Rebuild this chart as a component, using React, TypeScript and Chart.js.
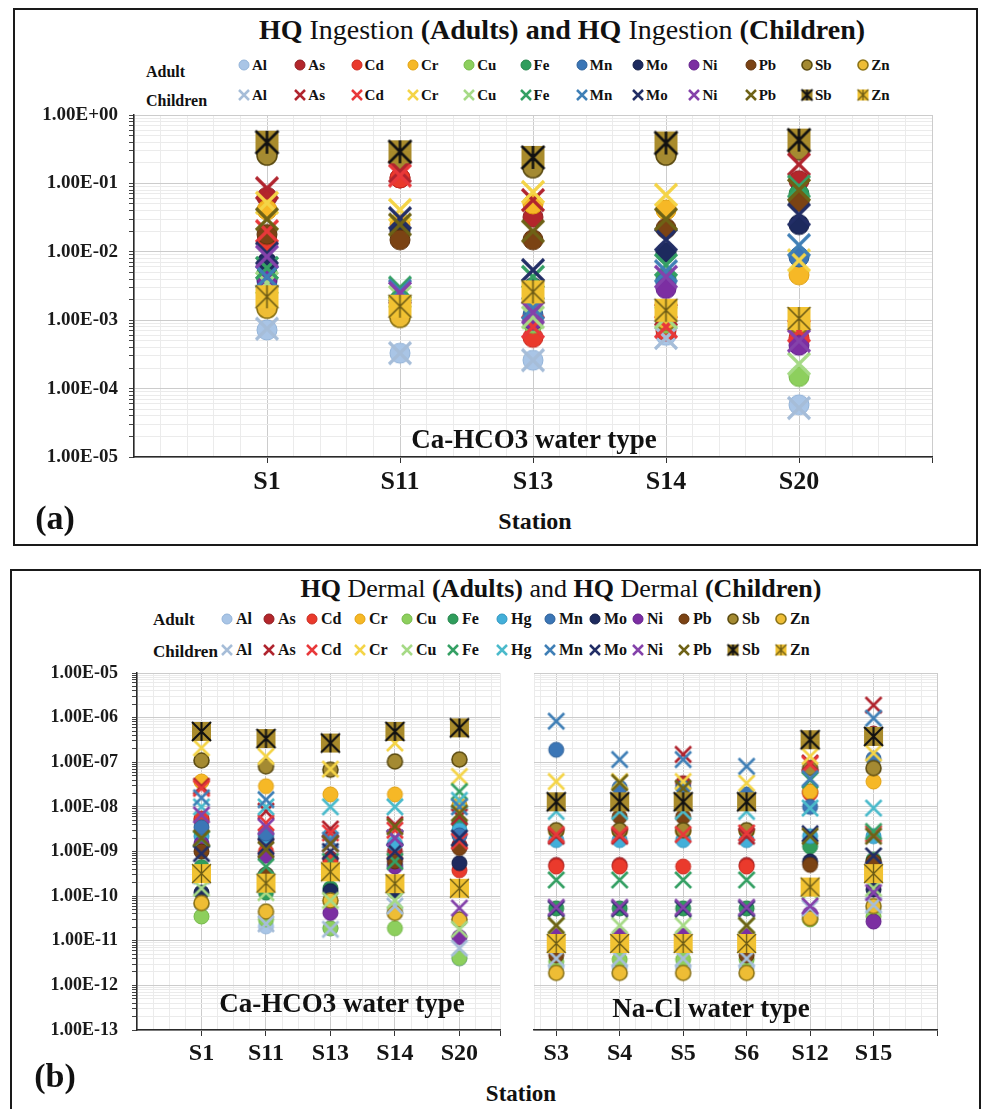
import React, { useEffect, useMemo, useRef } from 'react';
import { Chart, registerables } from 'chart.js';

Chart.register(...registerables);

const FONT = '"Liberation Serif", "Times New Roman", Times, serif';

// ---------------- data ----------------
const ingestionStations = ['S1', 'S11', 'S13', 'S14', 'S20'];
const ingestionElements = ['Al', 'As', 'Cd', 'Cr', 'Cu', 'Fe', 'Mn', 'Mo', 'Ni', 'Pb', 'Sb', 'Zn'];
// rows follow ingestionElements, columns follow ingestionStations
const ingestionAdult = [
  [7.2e-4, 3.3e-4, 2.6e-4, 6.0e-4, 5.8e-5],
  [6.3e-2, 1.2e-1, 3.2e-2, 8.0e-4, 1.1e-1],
  [1.4e-2, 1.2e-1, 5.6e-4, 7.0e-4, 5.5e-4],
  [4.1e-2, 2.5e-2, 5.0e-2, 4.1e-2, 4.6e-3],
  [2.5e-3, 1.5e-3, 9.0e-4, 9.0e-4, 1.5e-4],
  [5.0e-3, 2.0e-3, 2.5e-3, 4.0e-3, 7.0e-2],
  [3.7e-3, 1.8e-3, 1.2e-3, 3.5e-3, 8.4e-3],
  [7.0e-3, 2.0e-2, 3.0e-3, 9.8e-3, 2.5e-2],
  [4.0e-3, 1.8e-3, 1.0e-3, 2.9e-3, 4.3e-4],
  [1.8e-2, 1.5e-2, 1.5e-2, 2.2e-2, 5.4e-2],
  [2.6e-1, 2.2e-1, 1.7e-1, 2.6e-1, 3.1e-1],
  [1.5e-3, 1.1e-3, 2.0e-3, 1.0e-3, 9.0e-4],
];
const ingestionChildren = [
  [7.5e-4, 3.3e-4, 2.6e-4, 5.5e-4, 5.2e-5],
  [8.5e-2, 1.5e-1, 5.7e-2, 1.2e-3, 1.9e-1],
  [2.0e-2, 1.3e-1, 8.0e-4, 8.0e-4, 7.0e-4],
  [5.2e-2, 4.1e-2, 7.5e-2, 6.8e-2, 7.5e-3],
  [3.5e-3, 2.2e-3, 1.1e-3, 1.1e-3, 2.3e-4],
  [5.8e-3, 3.0e-3, 4.3e-3, 6.4e-3, 9.0e-2],
  [4.3e-3, 2.7e-3, 1.5e-3, 5.2e-3, 1.25e-2],
  [9.5e-3, 3.1e-2, 5.4e-3, 1.5e-2, 3.5e-2],
  [8.5e-3, 2.5e-3, 1.3e-3, 4.3e-3, 5.0e-4],
  [3.0e-2, 2.5e-2, 2.0e-2, 3.0e-2, 8.0e-2],
  [4.0e-1, 2.9e-1, 2.4e-1, 3.9e-1, 4.3e-1],
  [2.2e-3, 1.6e-3, 2.6e-3, 1.4e-3, 1.06e-3],
];

const dermalElements = ['Al', 'As', 'Cd', 'Cr', 'Cu', 'Fe', 'Hg', 'Mn', 'Mo', 'Ni', 'Pb', 'Sb', 'Zn'];
const caStations = ['S1', 'S11', 'S13', 'S14', 'S20'];
const naStations = ['S3', 'S4', 'S5', 'S6', 'S12', 'S15'];
const dermalAdultCa = [
  [6.5e-11, 2.1e-11, 1.9e-11, 5.0e-11, 4.0e-12],
  [5.0e-9, 1.9e-9, 7.0e-10, 1.0e-9, 1.4e-9],
  [5.5e-9, 1.0e-9, 6.0e-10, 7.0e-10, 3.8e-10],
  [3.7e-8, 2.9e-8, 1.9e-8, 1.9e-8, 1.1e-8],
  [3.5e-11, 3.0e-11, 1.9e-11, 1.9e-11, 4.1e-12],
  [4.5e-10, 1.2e-10, 1.5e-10, 1.5e-10, 4.3e-9],
  [2.2e-9, 2.2e-9, 2.3e-9, 1.5e-9, 3.0e-9],
  [3.5e-9, 2.5e-9, 4.0e-10, 5.0e-10, 2.3e-9],
  [1.2e-10, 3.0e-10, 1.3e-10, 1.3e-10, 5.5e-10],
  [1.5e-9, 8.0e-10, 4.2e-11, 4.6e-10, 1.2e-11],
  [1.0e-9, 3.0e-10, 3.5e-10, 6.0e-10, 1.2e-9],
  [1.1e-7, 8.1e-8, 6.8e-8, 1.04e-7, 1.15e-7],
  [7.0e-11, 4.5e-11, 8.0e-11, 4.2e-11, 3.0e-11],
];
const dermalChildrenCa = [
  [2.8e-10, 2.4e-11, 1.8e-11, 6.0e-11, 6.8e-12],
  [2.9e-8, 8.0e-9, 3.2e-9, 4.0e-9, 6.0e-9],
  [2.6e-8, 4.4e-9, 2.6e-9, 3.0e-9, 1.7e-9],
  [2.1e-7, 1.35e-7, 7.0e-8, 2.7e-7, 4.8e-8],
  [1.5e-10, 1.2e-10, 8.0e-11, 8.0e-11, 1.8e-11],
  [1.9e-9, 4.6e-10, 6.0e-10, 6.0e-10, 2.2e-8],
  [1.0e-8, 1.0e-8, 1.0e-8, 1.0e-8, 1.4e-8],
  [1.6e-8, 1.45e-8, 1.8e-9, 2.0e-9, 1.0e-8],
  [9.0e-10, 1.3e-9, 1.0e-9, 1.0e-9, 2.0e-9],
  [6.6e-9, 3.6e-9, 1.5e-9, 2.0e-9, 5.4e-11],
  [2.0e-9, 1.1e-9, 1.5e-9, 3.6e-9, 7.2e-9],
  [4.9e-7, 3.4e-7, 2.7e-7, 4.9e-7, 5.9e-7],
  [3.2e-10, 1.95e-10, 3.5e-10, 1.9e-10, 1.5e-10],
];
const dermalAdultNa = [
  [2.5e-12, 2.5e-12, 2.5e-12, 2.5e-12, 3.5e-11, 5.0e-11],
  [5.0e-10, 5.0e-10, 3.4e-8, 5.0e-10, 2.2e-8, 4.4e-7],
  [4.6e-10, 4.6e-10, 4.6e-10, 4.6e-10, 2.0e-8, 6.0e-10],
  [2.8e-9, 2.8e-9, 2.8e-9, 2.8e-9, 2.2e-8, 3.7e-8],
  [3.4e-12, 3.8e-12, 3.8e-12, 3.8e-12, 3.0e-11, 3.5e-11],
  [5.3e-11, 5.3e-11, 5.3e-11, 5.3e-11, 1.3e-9, 6.5e-10],
  [1.8e-9, 1.8e-9, 1.8e-9, 1.8e-9, 2.2e-9, 2.2e-9],
  [1.9e-7, 2.7e-8, 2.7e-8, 1.9e-8, 1.0e-8, 1.2e-7],
  [1.2e-11, 1.2e-11, 1.2e-11, 1.2e-11, 6.0e-10, 1.4e-10],
  [1.3e-11, 1.3e-11, 1.3e-11, 1.3e-11, 4.0e-11, 2.7e-11],
  [4.7e-12, 6.0e-9, 6.0e-9, 4.7e-12, 5.0e-10, 6.0e-10],
  [3.0e-9, 3.0e-9, 3.0e-9, 3.0e-9, 7.4e-8, 7.4e-8],
  [1.9e-12, 1.9e-12, 1.9e-12, 1.9e-12, 3.2e-11, 6.0e-11],
];
const dermalChildrenNa = [
  [4.0e-12, 4.0e-12, 4.0e-12, 4.0e-12, 5.4e-11, 6.3e-11],
  [2.2e-9, 2.2e-9, 1.5e-7, 2.2e-9, 9.6e-8, 1.9e-6],
  [2.4e-9, 2.4e-9, 2.4e-9, 2.6e-9, 9.0e-8, 2.5e-9],
  [3.7e-8, 3.7e-8, 3.7e-8, 3.4e-8, 1.35e-7, 1.6e-7],
  [2.2e-11, 2.2e-11, 2.2e-11, 2.2e-11, 1.3e-10, 1.5e-10],
  [2.3e-10, 2.3e-10, 2.3e-10, 2.3e-10, 4.0e-8, 2.8e-9],
  [7.9e-9, 7.9e-9, 7.9e-9, 7.9e-9, 9.4e-9, 9.4e-9],
  [8.3e-7, 1.15e-7, 1.15e-7, 8.1e-8, 4.3e-8, 9.7e-7],
  [5.2e-11, 5.2e-11, 5.2e-11, 5.2e-11, 2.5e-9, 8.0e-10],
  [5.6e-11, 5.6e-11, 5.6e-11, 5.6e-11, 6.0e-11, 1.2e-10],
  [2.2e-11, 3.5e-8, 2.6e-8, 2.2e-11, 2.2e-9, 2.2e-9],
  [1.3e-8, 1.3e-8, 1.3e-8, 1.3e-8, 3.2e-7, 3.8e-7],
  [8.7e-12, 8.7e-12, 8.7e-12, 8.7e-12, 1.6e-10, 3.2e-10],
];

const ingestionDecades = [-5, 0];
const dermalDecades = [-13, -5];

// ---------------- styling ----------------
const adultColors: Record<string, [string, string]> = {
  Al: ['#a9c5e6', '#93b3d8'],
  As: ['#b3262b', '#8e1d22'],
  Cd: ['#ea3a2c', '#c82a20'],
  Cr: ['#f6b826', '#e0a010'],
  Cu: ['#8dcf5d', '#74b848'],
  Fe: ['#2f9d5c', '#23834a'],
  Hg: ['#43afd9', '#2f96c0'],
  Mn: ['#3b76b6', '#2c5f98'],
  Mo: ['#1d2a5e', '#121c45'],
  Ni: ['#7c2ea2', '#62208a'],
  Pb: ['#7b4314', '#5e300a'],
  Sb: ['#a48a32', '#5c4c12'],
  Zn: ['#eebd35', '#8c7418'],
};
const childColors: Record<string, string> = {
  Al: '#a6bdd8', As: '#b0242e', Cd: '#e8383a', Cr: '#f4d447', Cu: '#a6da86', Fe: '#35a064',
  Hg: '#4bbacb', Mn: '#3f7fb6', Mo: '#222e66', Ni: '#8442aa', Pb: '#6e6216', Sb: '#111111', Zn: '#5e5412',
};
const boxFill: Record<string, string> = { Sb: '#a98b2c', Zn: '#f1c232' };

type Kind = 'circle' | 'x' | 'box';
function markerCanvas(kind: Kind, s: number, fill: string, stroke: string, lw: number, vertical = false) {
  const pad = Math.ceil(lw) + 1;
  const size = Math.ceil(s * 2 + pad * 2);
  const c = document.createElement('canvas');
  c.width = size;
  c.height = size;
  const g = c.getContext('2d')!;
  const m = size / 2;
  if (kind === 'circle') {
    g.beginPath();
    g.arc(m, m, s, 0, Math.PI * 2);
    g.fillStyle = fill;
    g.fill();
    g.lineWidth = lw;
    g.strokeStyle = stroke;
    g.stroke();
  } else if (kind === 'x') {
    g.strokeStyle = stroke;
    g.lineWidth = lw;
    g.beginPath();
    g.moveTo(m - s, m - s);
    g.lineTo(m + s, m + s);
    g.moveTo(m - s, m + s);
    g.lineTo(m + s, m - s);
    g.stroke();
  } else {
    g.fillStyle = fill;
    g.fillRect(m - s, m - s, 2 * s, 2 * s);
    g.strokeStyle = stroke;
    g.lineWidth = lw;
    g.beginPath();
    g.moveTo(m - s, m - s);
    g.lineTo(m + s, m + s);
    g.moveTo(m - s, m + s);
    g.lineTo(m + s, m - s);
    if (vertical) {
      g.moveTo(m, m - s);
      g.lineTo(m, m + s);
    }
    g.stroke();
  }
  return c;
}

function adultMarker(el: string, r: number) {
  const [f, s] = adultColors[el];
  const lw = el === 'Sb' || el === 'Zn' ? 1.6 : 1;
  return markerCanvas('circle', r, f, s, lw);
}
function childMarker(el: string, s: number, lw: number, box: number) {
  if (el === 'Sb') return markerCanvas('box', box, boxFill.Sb, '#111', lw * 0.8, true);
  if (el === 'Zn') return markerCanvas('box', box, boxFill.Zn, '#6b5a14', Math.max(1.2, lw * 0.5), true);
  return markerCanvas('x', s, '', childColors[el], lw);
}

function logTicks(minExp: number, maxExp: number) {
  const arr: number[] = [];
  for (let e = minExp; e < maxExp; e++) for (let k = 1; k < 10; k++) arr.push(k * Math.pow(10, e));
  arr.push(Math.pow(10, maxExp));
  return arr;
}
const isDecade = (v: number) => Math.abs(Math.log10(v) - Math.round(Math.log10(v))) < 1e-6;
const fmtE = (v: number) => {
  const e = Math.round(Math.log10(v));
  return `1.00E${e < 0 ? '-' : '+'}${String(Math.abs(e)).padStart(2, '0')}`;
};

interface PlotProps {
  left: number; top: number; width: number; height: number;
  stations: string[]; elements: string[]; adult: number[][]; children: number[][];
  xMin: number; xMax: number; xStep: number; decades: number[];
  yAxisWidth: number; xAxisHeight: number; padTop: number; padRight: number;
  showY: boolean; yFont: number; xFont: number; yPad: number; xPad: number;
  r: number; xs: number; xlw: number; box: number;
}

function Plot(p: PlotProps) {
  const ref = useRef<HTMLCanvasElement>(null);
  useEffect(() => {
    const n = p.elements.length;
    const datasets: any[] = [];
    const all = [
      ...p.elements.map((el, i) => ({ el, vals: p.adult[i], img: adultMarker(el, p.r), lab: 'Adult ' + el })),
      ...p.elements.map((el, i) => ({ el, vals: p.children[i], img: childMarker(el, p.xs, p.xlw, p.box), lab: 'Children ' + el })),
    ];
    all.forEach((d, idx) => {
      datasets.push({
        label: d.lab,
        data: d.vals.map((v, j) => ({ x: j + 1, y: v })),
        pointStyle: d.img,
        pointRadius: 8,
        showLine: false,
        order: 2 * n - idx,
      });
    });
    const xTicks: number[] = [];
    const start = Math.ceil(p.xMin / p.xStep - 1e-9);
    if (Math.abs(start * p.xStep - p.xMin) > 1e-6) xTicks.push(p.xMin);
    for (let k = start; k * p.xStep <= p.xMax + 1e-9; k++) xTicks.push(Math.round(k * p.xStep * 1000) / 1000);
    if (Math.abs(xTicks[xTicks.length - 1] - p.xMax) > 1e-6) xTicks.push(p.xMax);
    const yTicks = logTicks(p.decades[0], p.decades[1]);
    const isStation = (v: number) => Math.abs(v - Math.round(v)) < 1e-6 && Math.round(v) >= 1 && Math.round(v) <= p.stations.length;

    const chart = new Chart(ref.current!, {
      type: 'scatter',
      data: { datasets },
      options: {
        animation: false,
        responsive: false,
        devicePixelRatio: 1,
        layout: { padding: { top: p.padTop, right: p.padRight, left: 0, bottom: 0 } },
        plugins: { legend: { display: false }, tooltip: { enabled: false }, title: { display: false } },
        events: [],
        scales: {
          x: {
            type: 'linear',
            min: p.xMin,
            max: p.xMax,
            afterBuildTicks: (s: any) => { s.ticks = xTicks.map((v) => ({ value: v })); },
            afterFit: (s: any) => { s.height = p.xAxisHeight; s.paddingLeft = 0; s.paddingRight = 0; },
            ticks: {
              autoSkip: false,
              maxRotation: 0,
              padding: p.xPad,
              color: '#151515',
              font: { family: FONT, size: p.xFont, weight: 'bold' },
              callback: (v: any) => (isStation(Number(v)) ? p.stations[Math.round(Number(v)) - 1] : ''),
            },
            grid: {
              color: (c: any) => (Math.abs(c.tick.value - Math.round(c.tick.value)) < 1e-6 ? '#cccccc' : '#ebebeb'),
              tickColor: (c: any) => (isStation(c.tick.value) || Math.abs(c.tick.value - p.xMax) < 1e-6 ? '#333' : 'rgba(0,0,0,0)'),
              tickLength: 6,
              lineWidth: 1,
            },
            border: { display: true, color: '#2a2a2a', width: 1.5 },
          },
          y: {
            type: 'logarithmic',
            min: Math.pow(10, p.decades[0]),
            max: Math.pow(10, p.decades[1]),
            afterBuildTicks: (s: any) => { s.ticks = yTicks.map((v) => ({ value: v })); },
            afterFit: (s: any) => { s.width = p.yAxisWidth; s.paddingTop = 0; s.paddingBottom = 0; },
            ticks: {
              display: p.showY,
              autoSkip: false,
              padding: p.yPad,
              color: '#1a1a1a',
              font: { family: FONT, size: p.yFont, weight: 'bold' },
              callback: (v: any) => (isDecade(Number(v)) ? fmtE(Number(v)) : ''),
            },
            grid: {
              color: (c: any) => (isDecade(c.tick.value) ? '#cccccc' : '#ebebeb'),
              tickColor: p.showY ? '#444' : 'rgba(0,0,0,0)',
              tickLength: p.showY ? 5 : 0,
              drawTicks: p.showY,
              lineWidth: 1,
            },
            border: { display: p.showY, color: '#2a2a2a', width: 1.5 },
          },
        },
      } as any,
    });
    return () => chart.destroy();
  }, []);
  return (
    <canvas
      ref={ref}
      width={p.width}
      height={p.height}
      style={{ position: 'absolute', left: p.left, top: p.top, width: p.width, height: p.height }}
    />
  );
}

function Txt({ x, y, size, bold = true, anchor = 'middle', children }: any) {
  const tx = anchor === 'middle' ? '-50%' : anchor === 'end' ? '-100%' : '0';
  return (
    <div
      style={{
        position: 'absolute', left: x, top: y, transform: `translate(${tx}, -50%)`,
        fontFamily: FONT, fontSize: size, fontWeight: bold ? 'bold' : 'normal',
        lineHeight: 1, whiteSpace: 'nowrap', color: '#111',
      }}
    >
      {children}
    </div>
  );
}

function LegendRows({ elements, xs, rowY, labelX, labelY, size, labelSize, mr, mx, mlw, mbox, gap }: any) {
  const imgs = useMemo(
    () =>
      elements.map((el: string) => ({
        a: adultMarker(el, mr).toDataURL(),
        c: childMarker(el, mx, mlw, mbox).toDataURL(),
      })),
    []
  );
  const rows = ['Adult', 'Children'];
  return (
    <>
      {rows.map((r, ri) => (
        <Txt key={r} x={labelX} y={labelY[ri]} size={labelSize} anchor="start">{r}</Txt>
      ))}
      {elements.map((el: string, i: number) =>
        [0, 1].map((ri) => (
          <React.Fragment key={el + ri}>
            <img
              src={ri === 0 ? imgs[i].a : imgs[i].c}
              style={{ position: 'absolute', left: xs[i], top: rowY[ri], transform: 'translate(-50%, -50%)' }}
            />
            <Txt x={xs[i] + gap} y={rowY[ri]} size={size} anchor="start">{el}</Txt>
          </React.Fragment>
        ))
      )}
    </>
  );
}

export default function App() {
  const legendAx = ingestionElements.map((_, i) => 244 + i * 56.3);
  const legendBx = [227, 269, 312, 360, 407, 453, 502, 550, 595, 638, 684, 733, 781];
  return (
    <div style={{ position: 'absolute', left: 0, top: 0, width: 983, height: 1109, overflow: 'hidden', background: '#fff' }}>
      {/* panel (a) */}
      <div style={{ position: 'absolute', left: 13, top: 8, width: 965, height: 538, border: '2px solid #1a1a1a', boxSizing: 'border-box' }} />
      <Txt x={562} y={30} size={28} bold={false}>
        <b>HQ</b> Ingestion <b>(Adults)</b> <b>and</b> <b>HQ</b> Ingestion <b>(Children)</b>
      </Txt>
      <LegendRows
        elements={ingestionElements}
        xs={legendAx}
        rowY={[65, 95]}
        labelX={146}
        labelY={[72, 101]}
        size={15}
        labelSize={16}
        mr={5}
        mx={5}
        mlw={2.5}
        mbox={5.5}
        gap={8}
      />
      <Plot
        left={20} top={100} width={930} height={405}
        stations={ingestionStations} elements={ingestionElements}
        adult={ingestionAdult} children={ingestionChildren}
        xMin={0} xMax={6} xStep={0.2} decades={ingestionDecades}
        yAxisWidth={114} xAxisHeight={48} padTop={15} padRight={18}
        showY={true} yFont={19} xFont={26} yPad={11} xPad={4}
        r={10} xs={11} xlw={3.2} box={11.5}
      />
      <Txt x={534} y={439} size={27}>Ca-HCO3 water type</Txt>
      <Txt x={535} y={521} size={24}>Station</Txt>
      <Txt x={55} y={518} size={34}>(a)</Txt>

      {/* panel (b) */}
      <div style={{ position: 'absolute', left: 10, top: 569, width: 971, height: 560, border: '2px solid #1a1a1a', boxSizing: 'border-box' }} />
      <Txt x={561} y={589} size={26} bold={false}>
        <b>HQ</b> Dermal <b>(Adults)</b> and <b>HQ</b> Dermal <b>(Children)</b>
      </Txt>
      <LegendRows
        elements={dermalElements}
        xs={legendBx}
        rowY={[619, 650]}
        labelX={153}
        labelY={[619, 651]}
        size={16}
        labelSize={17}
        mr={5}
        mx={5}
        mlw={2.5}
        mbox={5.5}
        gap={9}
      />
      <Plot
        left={20} top={660} width={500} height={410}
        stations={caStations} elements={dermalElements}
        adult={dermalAdultCa} children={dermalChildrenCa}
        xMin={0} xMax={5.63} xStep={0.25} decades={dermalDecades}
        yAxisWidth={117} xAxisHeight={40} padTop={13} padRight={20}
        showY={true} yFont={18} xFont={24} yPad={14} xPad={3}
        r={7.5} xs={8} xlw={2.6} box={9.5}
      />
      <Plot
        left={525} top={660} width={430} height={410}
        stations={naStations} elements={dermalElements}
        adult={dermalAdultNa} children={dermalChildrenNa}
        xMin={0.65} xMax={7} xStep={0.25} decades={dermalDecades}
        yAxisWidth={5} xAxisHeight={40} padTop={13} padRight={18}
        showY={false} yFont={18} xFont={24} yPad={14} xPad={3}
        r={7.5} xs={8} xlw={2.6} box={9.5}
      />
      <Txt x={342} y={1003} size={27}>Ca-HCO3 water type</Txt>
      <Txt x={711} y={1008} size={27}>Na-Cl water type</Txt>
      <Txt x={521} y={1093} size={23}>Station</Txt>
      <Txt x={55} y={1076} size={34}>(b)</Txt>
    </div>
  );
}
